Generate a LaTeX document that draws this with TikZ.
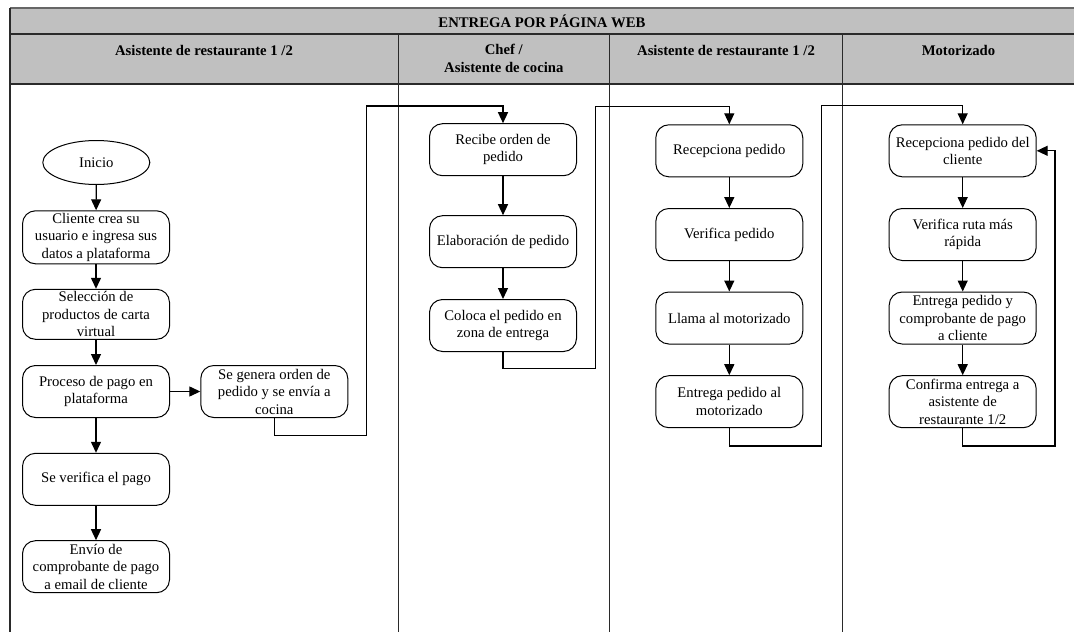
\documentclass[tikz,border=0pt]{standalone}
\usepackage{fontspec}
\setmainfont{Liberation Serif}
\usetikzlibrary{arrows.meta,shapes.geometric}

\definecolor{headfill}{HTML}{C0C0C0}
\definecolor{rulecol}{HTML}{2A2A2A}

\begin{document}
\begin{tikzpicture}[x=1pt,y=-1pt,
  every node/.style={font=\fontsize{14.7}{17.5}\selectfont},
  procbox/.style={draw=black, line width=1pt, rounded corners=13pt,
    minimum width=147pt, minimum height=52pt, align=center, inner sep=0pt},
  startnode/.style={draw=black, ellipse, line width=1pt,
    minimum width=107pt, minimum height=44pt, inner sep=0pt},
  flow/.style={line width=1.3pt, line join=miter, -{Triangle[length=11pt,width=10pt]}},
  lane/.style={line width=1.3pt, draw=rulecol},
  headtext/.style={font=\bfseries\fontsize{14.7}{17.5}\selectfont, align=center}
]
\useasboundingbox (0,0) rectangle (1074,632);

% header bands
\fill[headfill] (10,8) rectangle (1074,84);
\draw[lane, draw=black!60] (10,8) -- (1074,8);
\draw[lane] (10,34) -- (1074,34);
\draw[lane] (10,84) -- (1074,84);
\draw[lane] (10,8) -- (10,632);
\draw[lane] (398.3,34) -- (398.3,632);
\draw[lane] (609.3,34) -- (609.3,632);
\draw[lane] (842.7,34) -- (842.7,632);

% titles
\node[headtext] (title) at (542,21) {ENTREGA POR PÁGINA WEB};
\node[headtext] (h1) at (204,50) {Asistente de restaurante 1 /2};
\node[headtext, anchor=north] (h2) at (503.8,41) {Chef /\\Asistente de cocina};
\node[headtext] (h3) at (726,50) {Asistente de restaurante 1 /2};
\node[headtext] (h4) at (958.5,50) {Motorizado};

% lane 1
\node[startnode] (inicio) at (96.3,162.5) {Inicio};
\node[procbox, minimum height=53pt] (cliente) at (96,237.3) {Cliente crea su\\usuario e ingresa sus\\datos a plataforma};
\node[procbox, minimum height=50pt] (seleccion) at (96,314.3) {Selección de\\productos de carta\\virtual};
\node[procbox] (proceso) at (96,391.5) {Proceso de pago en\\plataforma};
\node[procbox] (genera) at (274.3,391.5) {Se genera orden de\\pedido y se envía a\\cocina};
\node[procbox] (verifica) at (96,479.3) {Se verifica el pago};
\node[procbox] (envio) at (96,566.7) {Envío de\\comprobante de pago\\a email de cliente};

% lane 2
\node[procbox] (recibe) at (503,149.7) {Recibe orden de\\pedido};
\node[procbox] (elabora) at (503,241.7) {Elaboración de pedido};
\node[procbox] (coloca) at (503,325.5) {Coloca el pedido en\\zona de entrega};

% lane 3
\node[procbox] (recep) at (729.3,150.8) {Recepciona pedido};
\node[procbox] (verped) at (729.3,234.5) {Verifica pedido};
\node[procbox] (llama) at (729.3,318) {Llama al motorizado};
\node[procbox] (entmot) at (729.3,401.7) {Entrega pedido al\\motorizado};

% lane 4
\node[procbox] (recepcli) at (962.7,150.8) {Recepciona pedido del\\cliente};
\node[procbox] (ruta) at (962.7,234.5) {Verifica ruta más\\rápida};
\node[procbox] (entcli) at (962.7,318) {Entrega pedido y\\comprobante de pago\\a cliente};
\node[procbox] (confirma) at (962.7,401.7) {Confirma entrega a\\asistente de\\restaurante 1/2};

% routing points of the long connectors
\coordinate (g1) at (366.7,435.7);
\coordinate (g2) at (366.7,106);
\coordinate (c1) at (595.5,368.3);
\coordinate (c2) at (595.5,106.5);
\coordinate (m1) at (821.3,446);
\coordinate (m2) at (821.3,105.7);
\coordinate (r1) at (1055,446);

% flow inside lane 1
\draw[flow] (inicio) -- (cliente);
\draw[flow] (cliente) -- (seleccion);
\draw[flow] (seleccion) -- (proceso);
\draw[flow] (proceso) -- (verifica);
\draw[flow] (verifica) -- (envio);
\draw[flow] (proceso) -- (genera);

% lane 2
\draw[flow] (recibe) -- (elabora);
\draw[flow] (elabora) -- (coloca);

% lane 3
\draw[flow] (recep) -- (verped);
\draw[flow] (verped) -- (llama);
\draw[flow] (llama) -- (entmot);

% lane 4
\draw[flow] (recepcli) -- (ruta);
\draw[flow] (ruta) -- (entcli);
\draw[flow] (entcli) -- (confirma);

% hand-offs between lanes
\draw[flow] (genera.south) |- (g1) -- (g2) -| (recibe.north);
\draw[flow] (coloca.south) |- (c1) -- (c2) -| (recep.north);
\draw[flow] (entmot.south) |- (m1) -- (m2) -| (recepcli.north);
\draw[flow] (confirma.south) |- (r1) |- (recepcli.east);

\end{tikzpicture}
\end{document}
